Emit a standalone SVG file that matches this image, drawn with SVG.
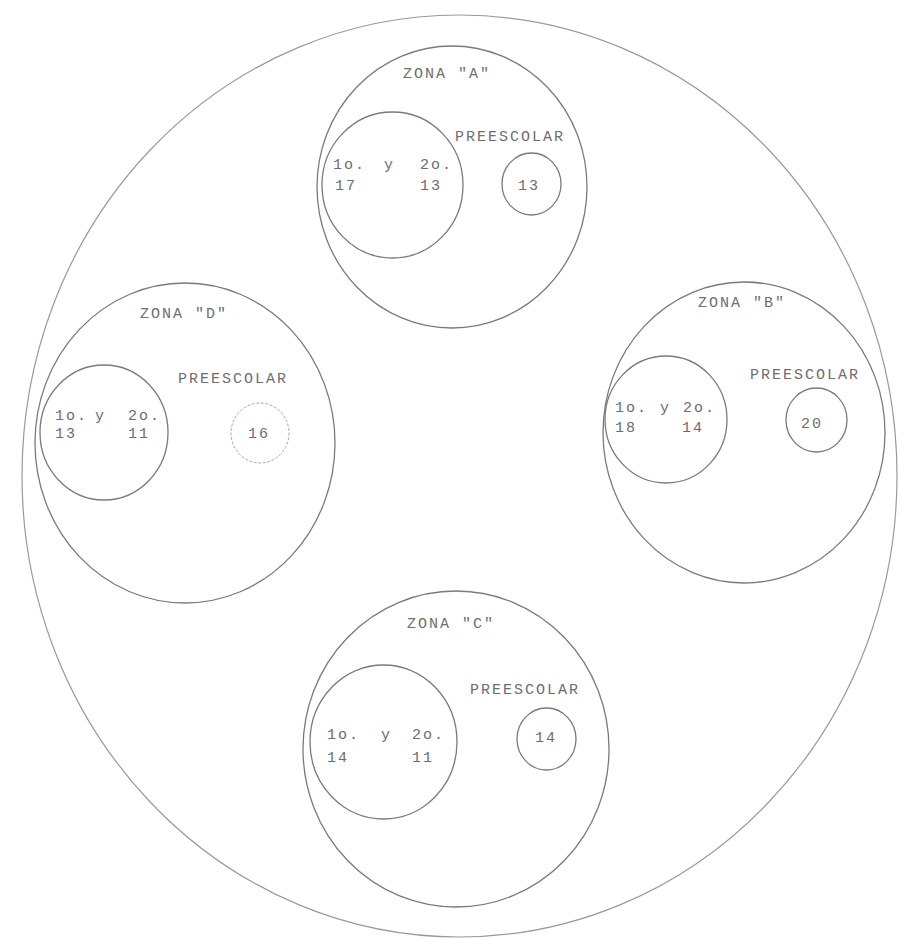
<svg xmlns="http://www.w3.org/2000/svg" width="900" height="938" viewBox="0 0 900 938">
<style>
.c{fill:none;stroke:#7a7a7a;stroke-width:1.3}
.o{fill:none;stroke:#9a9a9a;stroke-width:1.2}
.l{fill:none;stroke:#aaaaaa;stroke-width:1;stroke-dasharray:3 1.5}
text{font-family:"Liberation Mono","DejaVu Sans Mono",monospace;font-size:15px;fill:#6e6e6e;letter-spacing:2px}
</style>
<rect width="900" height="938" fill="#ffffff"/>
<g id="outer"><ellipse class="o" cx="459.5" cy="476" rx="437.5" ry="461"/></g>
<g id="zonaA">
<ellipse class="c" cx="452" cy="187" rx="135" ry="141"/>
<text x="403" y="78">ZONA "A"</text>
<ellipse class="c" cx="392.5" cy="185" rx="70.5" ry="73"/>
<text y="169"><tspan x="333">1o.</tspan> <tspan x="384">y</tspan> <tspan x="420">2o.</tspan></text>
<text y="190"><tspan x="335">17</tspan> <tspan x="420">13</tspan></text>
<text x="455" y="141">PREESCOLAR</text>
<ellipse class="c" cx="531.5" cy="184" rx="29.5" ry="31"/>
<text x="518" y="190">13</text>
</g>
<g id="zonaB">
<ellipse class="c" cx="744" cy="432.5" rx="141" ry="150.5"/>
<text x="698" y="307">ZONA "B"</text>
<ellipse class="c" cx="666" cy="419.5" rx="61" ry="63.5"/>
<text y="412"><tspan x="615">1o.</tspan> <tspan x="660">y</tspan> <tspan x="683">2o.</tspan></text>
<text y="432"><tspan x="615">18</tspan> <tspan x="682">14</tspan></text>
<text x="750" y="379">PREESCOLAR</text>
<ellipse class="c" cx="816.5" cy="420" rx="30.5" ry="32"/>
<text x="801" y="428">20</text>
</g>
<g id="zonaC">
<ellipse class="c" cx="456" cy="749" rx="153" ry="158"/>
<text x="407" y="628">ZONA "C"</text>
<ellipse class="c" cx="383.5" cy="742" rx="73.5" ry="77"/>
<text y="739"><tspan x="327">1o.</tspan> <tspan x="381">y</tspan> <tspan x="412">2o.</tspan></text>
<text y="762"><tspan x="327">14</tspan> <tspan x="412">11</tspan></text>
<text x="470" y="694">PREESCOLAR</text>
<ellipse class="c" cx="546.5" cy="739" rx="29.5" ry="31"/>
<text x="535" y="742">14</text>
</g>
<g id="zonaD">
<ellipse class="c" cx="185" cy="443" rx="150" ry="160"/>
<text x="140" y="318">ZONA "D"</text>
<ellipse class="c" cx="104" cy="432.5" rx="64" ry="67.5"/>
<text y="420"><tspan x="55">1o.</tspan> <tspan x="95">y</tspan> <tspan x="128">2o.</tspan></text>
<text y="438"><tspan x="55">13</tspan> <tspan x="128">11</tspan></text>
<text x="178" y="383">PREESCOLAR</text>
<ellipse class="l" cx="260" cy="433" rx="29" ry="30"/>
<text x="248" y="438">16</text>
</g>
<g id="connectors"/>
</svg>
